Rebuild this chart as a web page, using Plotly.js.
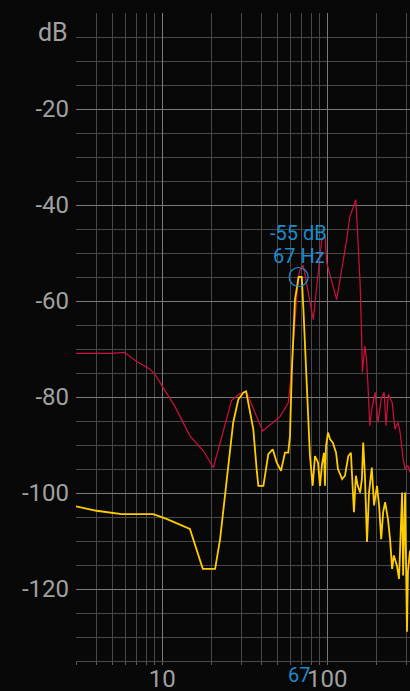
<!DOCTYPE html>
<html>
<head>
<meta charset="utf-8">
<script src="https://cdn.plot.ly/plotly-3.0.1.min.js"></script>
<style>
html,body{margin:0;padding:0;background:#080808;}
#chart{width:410px;height:691px;}
</style>
</head>
<body>
<div id="chart"></div>
<script>
// Red series (frequency Hz, level dB)
const redFreq = [3.00, 4.94, 5.89, 7.0, 8.43, 9.03, 10.1, 11.9, 14.7, 17.7, 20.4, 26.3, 29.6, 32.2, 40.6, 51.7, 58.0, 60.0, 66.5, 68.3, 71.5, 82.2, 92.5, 97.0, 99.1, 114, 131, 137, 149, 158, 162, 163, 169, 173, 176, 181, 186, 195, 203, 212, 221, 227, 234, 247, 257, 268, 276, 288, 296, 308, 317];
const redDb   = [-70.9, -70.9, -70.7, -72.6, -74.2, -75.3, -78.0, -81.9, -88.1, -91.2, -94.7, -80.7, -79.3, -78.8, -87.1, -84.1, -81.2, -76.3, -55.5, -53.5, -52.6, -63.9, -47.2, -46.5, -52.0, -59.7, -47.2, -42.4, -38.9, -56.2, -69.4, -74.9, -69.4, -72.2, -77.0, -86.0, -82.6, -79.0, -85.3, -80.5, -79.0, -86.0, -79.5, -81.1, -86.7, -85.3, -87.3, -92.9, -95.0, -94.3, -95.7];

// Yellow series (frequency Hz, level dB)
const yelFreq = [3.00, 4.00, 5.67, 8.82, 10.6, 13.4, 14.7, 17.6, 20.9, 22.4, 24.0, 25.7, 26.9, 28.9, 31.0, 32.2, 35.6, 37.3, 38.2, 41.0, 43.9, 46.7, 49.3, 52.4, 55.4, 58.0, 59.4, 60.9, 63.7, 67.0, 70.0, 71.5, 75.0, 75.6, 78.5, 81.5, 84.2, 87.8, 90.3, 92.9, 95.5, 96.8, 98.2, 101, 104, 108, 113, 116, 123, 128, 134, 139, 145, 149, 153, 158, 162, 165, 169, 174, 179, 186, 192, 200, 206, 212, 218, 224, 233, 240, 247, 253, 264, 272, 276, 284, 288, 292, 296, 304, 308, 317];
const yelDb   = [-102.8, -103.7, -104.4, -104.4, -105.4, -106.8, -107.5, -115.8, -115.8, -109.6, -100.6, -90.9, -85.3, -80.5, -79.1, -78.8, -86.7, -95.0, -98.5, -98.5, -91.9, -90.9, -93.6, -95.4, -91.6, -91.6, -88.1, -74.9, -59.7, -55.0, -55.0, -61.1, -76.3, -79.1, -92.3, -98.5, -92.3, -93.6, -98.5, -94.0, -91.6, -98.5, -90.2, -87.4, -88.8, -89.5, -91.6, -95.0, -97.1, -96.4, -92.3, -91.6, -104.0, -96.4, -98.5, -99.9, -97.1, -89.5, -96.4, -110.2, -99.9, -94.7, -102.6, -98.5, -102.6, -109.6, -104.0, -101.9, -105.4, -109.6, -115.8, -113.0, -115.1, -117.9, -111.6, -99.9, -117.2, -107.5, -99.9, -128.9, -116.4, -112.0];

// Peak marker
const peakFreq = [67];
const peakDb = [-55];
const peakLabels = ['-55 dB', '67 Hz', '67'];

// Axis ticks
const yMajorVals = [-20, -40, -60, -80, -100, -120];
const yMajorText = ['-20', '-40', '-60', '-80', '-100', '-120'];
const yMinorVals = [-5,-10,-15,-25,-30,-35,-45,-50,-55,-65,-70,-75,-85,-90,-95,-105,-110,-115,-125,-130,0];
const xMajorVals = [10, 100];
const xMajorText = ['10', '100'];
const xMinorVals = [3,4,5,6,7,8,9,20,30,40,50,60,70,80,90,200,300];

const blue = '#1a8ccc';
const grey = '#a0a0a0';
const px = Math.log10(peakFreq[0]);

const traces = [
  {x: redFreq, y: redDb, type: 'scatter', mode: 'lines',
   line: {color: '#d0103c', width: 1.2}, hoverinfo: 'skip'},
  {x: yelFreq, y: yelDb, type: 'scatter', mode: 'lines',
   line: {color: '#ffcc00', width: 1.8}, hoverinfo: 'skip'},
  {x: peakFreq, y: peakDb, type: 'scatter', mode: 'markers',
   marker: {symbol: 'circle-open', size: 19, color: blue, line: {color: blue, width: 1.2}}, hoverinfo: 'skip'}
];

const layout = {
  width: 410, height: 691,
  margin: {l: 76, r: 0, t: 13, b: 30, pad: 0},
  paper_bgcolor: '#080808',
  plot_bgcolor: '#080808',
  showlegend: false,
  font: {family: 'Roboto, sans-serif', color: grey, size: 24},
  xaxis: {
    type: 'log',
    range: [Math.log10(3), Math.log10(317)],
    tickmode: 'array', tickvals: xMajorVals, ticktext: xMajorText,
    showgrid: true, gridcolor: '#7a7a7a', gridwidth: 1,
    ticks: 'outside', ticklen: 3, tickcolor: '#6a6a6a',
    ticklabelstandoff: -7,
    tickfont: {family: 'Roboto, sans-serif', size: 24, color: grey},
    showline: true, linecolor: '#4a4a4a', linewidth: 1,
    zeroline: false, fixedrange: true,
    minor: {tickmode: 'array', tickvals: xMinorVals, showgrid: true, gridcolor: '#474747', gridwidth: 1,
            ticks: 'outside', ticklen: 3, tickcolor: '#5a5a5a'}
  },
  yaxis: {
    range: [-135, 0],
    tickmode: 'array', tickvals: yMajorVals, ticktext: yMajorText,
    showgrid: true, gridcolor: '#7a7a7a', gridwidth: 1,
    ticks: '', ticklabelstandoff: 6,
    tickfont: {family: 'Roboto, sans-serif', size: 24, color: grey},
    showline: false, zeroline: false, fixedrange: true,
    minor: {tickmode: 'array', tickvals: yMinorVals, showgrid: true, gridcolor: '#474747', gridwidth: 1}
  },
  annotations: [
    {text: 'dB', xref: 'paper', yref: 'paper', x: 0, y: 1, xanchor: 'right', yanchor: 'top',
     xshift: -6, yshift: -3, showarrow: false,
     font: {family: 'Roboto, sans-serif', size: 25, color: grey}},
    {text: peakLabels[0], x: px, y: peakDb[0], xref: 'x', yref: 'y',
     xanchor: 'center', yanchor: 'middle', yshift: 44, showarrow: false,
     font: {family: 'Roboto, sans-serif', size: 20, color: blue}},
    {text: peakLabels[1], x: px, y: peakDb[0], xref: 'x', yref: 'y',
     xanchor: 'center', yanchor: 'middle', yshift: 21, showarrow: false,
     font: {family: 'Roboto, sans-serif', size: 20, color: blue}},
    {text: peakLabels[2], x: px, xref: 'x', yref: 'paper', y: 0,
     xanchor: 'center', yanchor: 'top', yshift: 0, xshift: 0, showarrow: false,
     font: {family: 'Roboto, sans-serif', size: 20, color: blue}}
  ]
};

Plotly.newPlot('chart', traces, layout, {displayModeBar: false, staticPlot: true});
</script>
</body>
</html>
